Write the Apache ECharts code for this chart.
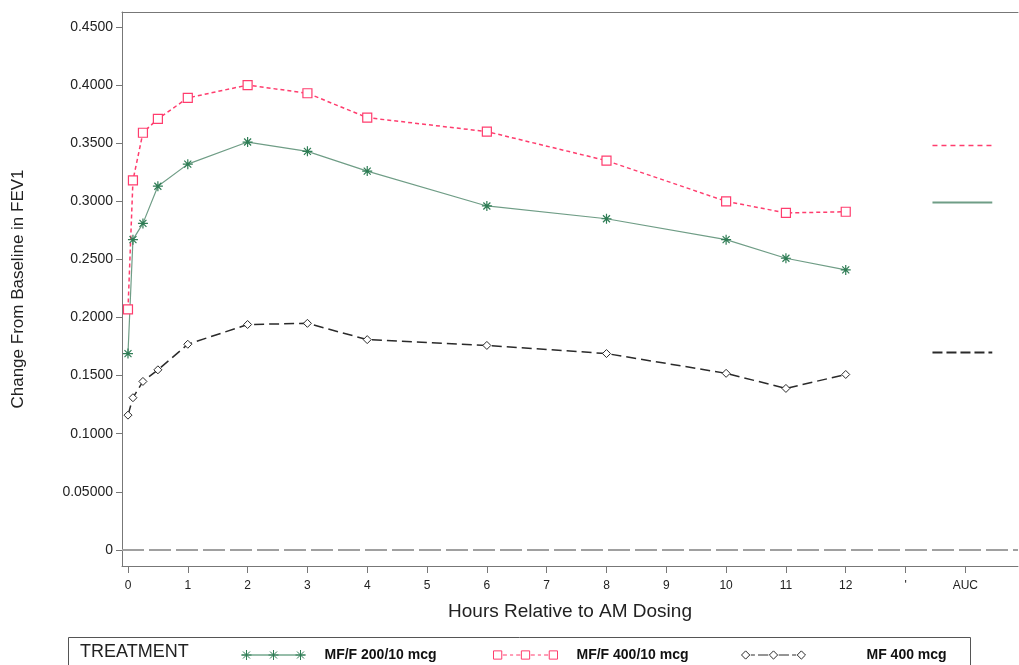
<!DOCTYPE html>
<html>
<head>
<meta charset="utf-8">
<title>Change From Baseline in FEV1</title>
<script src="https://cdn.jsdelivr.net/npm/echarts@6/dist/echarts.min.js"></script>
<style>
  html, body { margin: 0; padding: 0; background: #fff; }
  #chart { width: 1019px; height: 665px; }
</style>
</head>
<body>
<div id="chart"></div>
<script>
// hours after AM dose
var hours = [0, 0.083, 0.25, 0.5, 1, 2, 3, 4, 6, 8, 10, 11, 12];

var mff200 = [0.169, 0.267, 0.281, 0.313, 0.332, 0.351, 0.343, 0.326, 0.296, 0.285, 0.267, 0.251, 0.241];
var mff400 = [0.207, 0.318, 0.359, 0.371, 0.389, 0.400, 0.393, 0.372, 0.360, 0.335, 0.300, 0.290, 0.291];
var mf400  = [0.116, 0.131, 0.145, 0.155, 0.177, 0.194, 0.195, 0.181, 0.176, 0.169, 0.152, 0.139, 0.151];

// AUC values, drawn as short flat segments on the right
var aucX = [13.45, 14.45];
var aucValues = [0.299, 0.348, 0.170];

var names = ['MF/F 200/10 mcg', 'MF/F 400/10 mcg', 'MF 400 mcg'];

var xTicks = [0, 1, 2, 3, 4, 5, 6, 7, 8, 9, 10, 11, 12, 13, 14];
var xTickLabels = ['0', '1', '2', '3', '4', '5', '6', '7', '8', '9', '10', '11', '12', "'", 'AUC'];
var yTicks = [0, 0.05, 0.1, 0.15, 0.2, 0.25, 0.3, 0.35, 0.4, 0.45];
var yTickLabels = ['0', '0.05000', '0.1000', '0.1500', '0.2000', '0.2500', '0.3000', '0.3500', '0.4000', '0.4500'];

var FONT = '"Liberation Sans", Arial, sans-serif';
var colGreen = '#6f9d86', colGreenMk = '#2f7d55', colRed = '#ff3d6e', colBlack = '#2a2a2a';
var asterisk = 'path://M5,0L5,10M0,5L10,5M1.5,1.5L8.5,8.5M1.5,8.5L8.5,1.5';

// legend icons: line with three markers, like the SAS legend (64 x 10 box)
var iconMarks = [5, 32, 59];
function starAt(c) {
    return 'M' + c + ',0L' + c + ',10M' + (c - 5) + ',5L' + (c + 5) + ',5M' + (c - 3.5) + ',1.5L' + (c + 3.5) + ',8.5M' + (c - 3.5) + ',8.5L' + (c + 3.5) + ',1.5';
}
function squareAt(c) {
    return 'M' + (c - 4) + ',1L' + (c + 4) + ',1L' + (c + 4) + ',9L' + (c - 4) + ',9Z';
}
function diamondAt(c) {
    return 'M' + c + ',1L' + (c + 4) + ',5L' + c + ',9L' + (c - 4) + ',5Z';
}
function seg(a, b) { return 'M' + a + ',5L' + b + ',5'; }
var iconGreen = 'path://' + seg(0, 64) + iconMarks.map(starAt).join('');
var iconRed = 'path://' + iconMarks.map(squareAt).join('') + seg(10, 14) + seg(17, 20) + seg(23, 27) + seg(37, 41) + seg(44, 47) + seg(50, 54);
var iconBlack = 'path://' + iconMarks.map(diamondAt).join('') + seg(10, 14) + seg(17, 27) + seg(37, 47) + seg(50, 54);

function pairs(xs, ys) {
    return xs.map(function (x, i) { return [x, ys[i]]; });
}
function aucLine(v) {
    return aucX.map(function (x) { return [x, v]; });
}
function labelFor(ticks, labels) {
    return function (v) {
        for (var i = 0; i < ticks.length; i++) {
            if (Math.abs(ticks[i] - v) < 1e-6) return labels[i];
        }
        return '';
    };
}
function legendAt(name, icon, left, pad) {
    return {
        data: [{ name: name, icon: icon }],
        left: left, top: 643, itemWidth: 64, itemHeight: 10,
        itemStyle: { borderWidth: 1 },
        textStyle: { fontFamily: FONT, fontSize: 14, fontWeight: 'bold', color: '#111', padding: [0, 0, 0, pad] }
    };
}

var myChart = echarts.init(document.getElementById('chart'));

var option = {
    animation: false,
    backgroundColor: '#fff',
    grid: { left: 122, top: 12, right: 1, bottom: 99 },
    xAxis: [{
        type: 'value',
        min: -0.1,
        max: 14.88,
        name: 'Hours Relative to AM Dosing',
        nameLocation: 'middle',
        nameGap: 36,
        nameTextStyle: { fontFamily: FONT, fontSize: 19, color: '#222' },
        axisLine: { show: true, onZero: false, lineStyle: { color: '#777', width: 1 } },
        axisTick: { show: true, length: 7, customValues: xTicks, lineStyle: { color: '#777' } },
        axisLabel: {
            customValues: xTicks,
            formatter: labelFor(xTicks, xTickLabels),
            fontFamily: FONT, fontSize: 12, color: '#222', margin: 14
        },
        splitLine: { show: false }
    }, {
        type: 'value',
        position: 'top',
        min: -0.1,
        max: 14.88,
        axisLine: { show: true, onZero: false, lineStyle: { color: '#777', width: 1 } },
        axisTick: { show: false },
        axisLabel: { show: false },
        splitLine: { show: false }
    }],
    yAxis: {
        type: 'value',
        min: -0.0138,
        max: 0.4629,
        name: 'Change From Baseline in FEV1',
        nameLocation: 'middle',
        nameGap: 95,
        nameTextStyle: { fontFamily: FONT, fontSize: 17, color: '#222' },
        axisLine: { show: true, onZero: false, lineStyle: { color: '#777', width: 1 } },
        axisTick: { show: true, length: 6, customValues: yTicks, lineStyle: { color: '#777' } },
        axisLabel: {
            customValues: yTicks,
            formatter: labelFor(yTicks, yTickLabels),
            fontFamily: FONT, fontSize: 14, color: '#222', margin: 9
        },
        splitLine: { show: false }
    },
    legend: [
        legendAt(names[0], iconGreen, 236, 14),
        legendAt(names[1], iconRed, 488, 14),
        legendAt(names[2], iconBlack, 736, 56)
    ],
    graphic: [
        {
            type: 'rect', left: 68, top: 637, z: 0,
            shape: { width: 902, height: 40 },
            style: { fill: '#fff', stroke: '#555', lineWidth: 1 }
        },
        {
            type: 'text', left: 80, top: 643, z: 10,
            style: { text: 'TREATMENT', font: '18px ' + FONT, fill: '#222' }
        }
    ],
    series: [
        {
            name: names[0],
            type: 'line',
            data: pairs(hours, mff200),
            symbol: asterisk,
            symbolSize: 10,
            itemStyle: { color: colGreenMk, borderColor: colGreenMk, borderWidth: 1.2 },
            lineStyle: { color: colGreen, width: 1.2, type: 'solid' },
            markLine: {
                silent: true,
                symbol: 'none',
                label: { show: false },
                lineStyle: { color: '#a0a0a0', width: 2, type: [22, 5] },
                data: [{ yAxis: 0 }]
            },
            z: 3
        },
        {
            name: names[1],
            type: 'line',
            data: pairs(hours, mff400),
            symbol: 'rect',
            symbolSize: 9,
            itemStyle: { color: '#fff', borderColor: colRed, borderWidth: 1.2 },
            lineStyle: { color: colRed, width: 1.5, type: [4, 3] },
            z: 3
        },
        {
            name: names[2],
            type: 'line',
            data: pairs(hours, mf400),
            symbol: 'diamond',
            symbolSize: 8,
            itemStyle: { color: '#fff', borderColor: colBlack, borderWidth: 1 },
            lineStyle: { color: colBlack, width: 1.5, type: [10, 5] },
            z: 3
        },
        {
            name: names[0] + ' AUC',
            type: 'line',
            data: aucLine(aucValues[0]),
            symbol: 'none',
            lineStyle: { color: colGreen, width: 2, type: 'solid' }
        },
        {
            name: names[1] + ' AUC',
            type: 'line',
            data: aucLine(aucValues[1]),
            symbol: 'none',
            lineStyle: { color: colRed, width: 1.5, type: [5, 4] }
        },
        {
            name: names[2] + ' AUC',
            type: 'line',
            data: aucLine(aucValues[2]),
            symbol: 'none',
            lineStyle: { color: colBlack, width: 2, type: [10, 4] }
        }
    ]
};

myChart.setOption(option);
window.addEventListener('resize', function () { myChart.resize(); });
</script>
</body>
</html>
